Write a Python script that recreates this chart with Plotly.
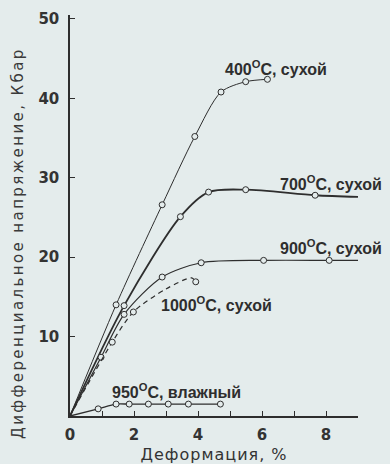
import plotly.graph_objects as go

# ---- data ----
x_400 = [0, 1.44, 2.88, 3.90, 4.72, 5.49, 6.17]
y_400 = [0, 14.0, 26.6, 35.2, 40.8, 42.1, 42.4]

x_700 = [0, 1.69, 3.45, 4.33, 5.49, 7.66, 9.0]
y_700 = [0, 13.9, 25.1, 28.2, 28.5, 27.8, 27.6]

x_900 = [0, 0.97, 1.69, 2.88, 4.10, 6.05, 8.10, 9.0]
y_900 = [0, 7.4, 12.8, 17.5, 19.3, 19.6, 19.6, 19.6]

x_1000 = [0, 1.32, 1.98, 3.0, 3.80, 3.93]
y_1000 = [0, 9.3, 13.1, 16.0, 17.4, 16.9]

x_950 = [0, 0.88, 1.44, 1.85, 2.45, 3.07, 3.70, 4.70]
y_950 = [0, 0.9, 1.5, 1.5, 1.5, 1.5, 1.5, 1.5]

labels = ["400<sup>O</sup>C, сухой", "700<sup>O</sup>C, сухой",
          "900<sup>O</sup>C, сухой", "1000<sup>O</sup>C, сухой",
          "950<sup>O</sup>C, влажный"]

x_tickvals = [0, 2, 4, 6, 8]
y_tickvals = [10, 20, 30, 40, 50]

x_title = "Деформация, %"
y_title = "Дифференциальное напряжение, Кбар"

# ---- styling ----
BG = "#e4ecec"
INK = "#2e2e2e"

fig = go.Figure()

def add_curve(xs, ys, width, dash, marked):
    fig.add_trace(go.Scatter(x=xs, y=ys, mode="lines",
                             line=dict(color=INK, width=width, dash=dash, shape="spline", smoothing=0.8),
                             showlegend=False, hoverinfo="skip"))
    mx = [xs[i] for i in marked]
    my = [ys[i] for i in marked]
    fig.add_trace(go.Scatter(x=mx, y=my, mode="markers",
                             marker=dict(symbol="circle", size=6, color=BG,
                                         line=dict(color=INK, width=1)),
                             showlegend=False))

add_curve(x_400, y_400, 1.0, "solid", range(1, len(x_400)))
add_curve(x_700, y_700, 1.8, "solid", range(1, len(x_700) - 1))
add_curve(x_900, y_900, 1.2, "solid", range(1, len(x_900) - 1))
add_curve(x_1000, y_1000, 1.2, "5px,4px", [1, 2, len(x_1000) - 1])
add_curve(x_950, y_950, 1.4, "solid", range(1, len(x_950)))

label_pos = [(4.78, 43.8), (6.5, 29.3), (6.5, 21.3), (2.78, 14.1), (1.25, 3.15)]
for txt, (lx, ly) in zip(labels, label_pos):
    fig.add_annotation(x=lx, y=ly, xref="x", yref="y", text=txt, showarrow=False,
                       xanchor="left", yanchor="middle",
                       font=dict(family="Liberation Sans", size=16, color=INK, weight="bold"))

# y-axis title (placed as a rotated text to match the reference position)
fig.add_annotation(x=-0.18, y=0.432, xref="paper", yref="paper", textangle=-90,
                   text='<span style="letter-spacing:2.4px">' + y_title + '</span>',
                   showarrow=False, xanchor="center", yanchor="middle",
                   font=dict(family="DejaVu Sans", size=15, color="#3a3a3a"))

tickfont = dict(family="DejaVu Sans", size=15, color="#333333", weight="bold")

fig.update_xaxes(range=[0, 9.0], tickmode="array", tickvals=x_tickvals,
                 ticks="inside", ticklen=5, tickwidth=1, tickcolor=INK,
                 minor=dict(dtick=1, ticks="inside", ticklen=5, tickwidth=1, tickcolor=INK),
                 showline=True, linecolor=INK, linewidth=1.5, showgrid=False, zeroline=False,
                 tickfont=tickfont, ticklabelstandoff=4, automargin=False,
                 title=dict(text='<span style="letter-spacing:1px">' + x_title + '</span>',
                            font=dict(family="DejaVu Sans", size=16, color="#333333")))
fig.update_yaxes(range=[0, 50.5], tickmode="array", tickvals=y_tickvals,
                 ticks="inside", ticklen=5, tickwidth=1, tickcolor=INK,
                 showline=True, linecolor=INK, linewidth=1.5, showgrid=False, zeroline=False,
                 tickfont=tickfont, ticklabelstandoff=6, automargin=False)

fig.update_layout(width=390, height=464, paper_bgcolor=BG, plot_bgcolor=BG,
                  margin=dict(l=70, r=32, t=15, b=48))

fig.write_html("out.html", config={"displayModeBar": False},
               post_script="document.body.style.margin='0';document.body.style.background='" + BG + "';")
